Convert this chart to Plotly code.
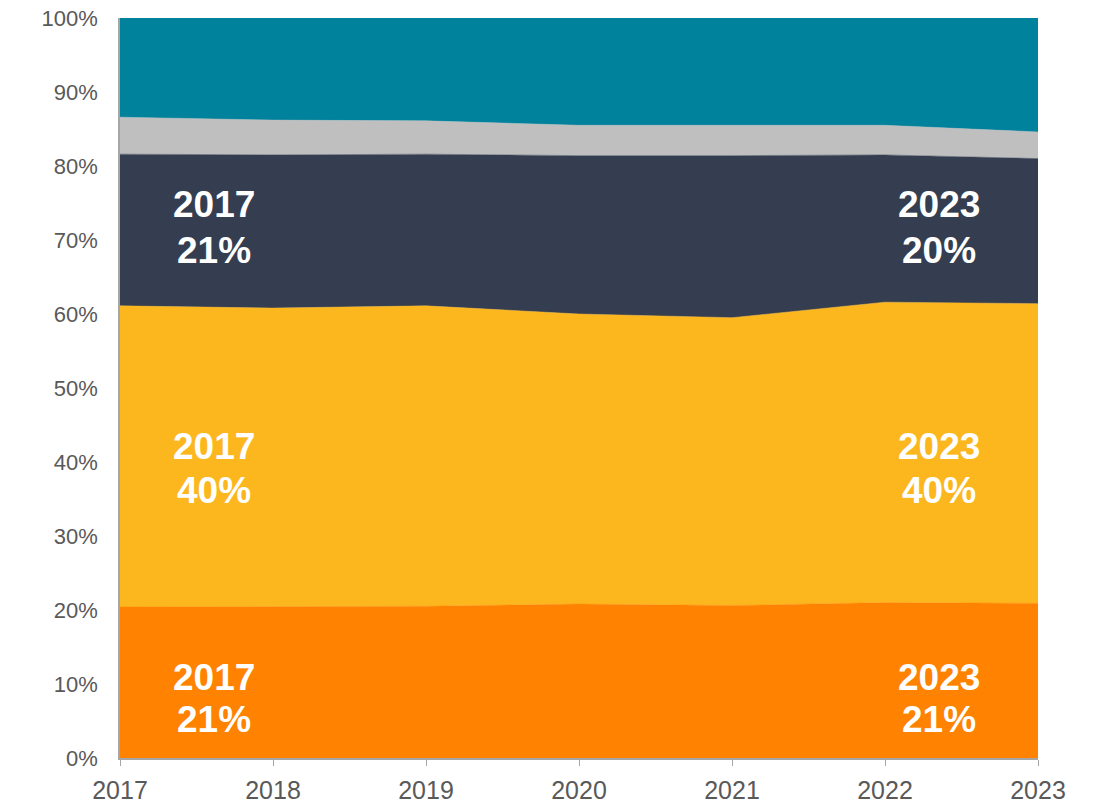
import plotly.graph_objects as go

years = [2017, 2018, 2019, 2020, 2021, 2022, 2023]
orange = [20.4, 20.5, 20.5, 20.8, 20.6, 21.0, 20.9]
yellow = [40.7, 40.3, 40.6, 39.2, 38.9, 40.6, 40.5]
dark = [20.5, 20.7, 20.5, 21.4, 21.9, 19.9, 19.6]
grey = [5.0, 4.7, 4.5, 4.1, 4.1, 4.0, 3.6]
teal = [13.4, 13.8, 13.9, 14.5, 14.5, 14.5, 15.4]

series = [
    ("Orange", orange, "#FF8200"),
    ("Yellow", yellow, "#FDB71E"),
    ("Dark", dark, "#343E50"),
    ("Grey", grey, "#BFBFBF"),
    ("Teal", teal, "#00819C"),
]

# band labels: (year line y, share line y, start share, end share)
year_line_y = [10.85, 42.05, 74.8]
share_line_y = [5.15, 36.1, 68.55]
start_shares = ["21%", "40%", "21%"]
end_shares = ["21%", "40%", "20%"]
label_x = [2017.615, 2022.355]
label_years = ["2017", "2023"]

fig = go.Figure()
for name, vals, col in series:
    fig.add_trace(go.Scatter(
        x=years, y=vals, name=name, stackgroup="one",
        mode="lines", line=dict(width=0.5, color=col),
        fillcolor=col,
    ))

lab_font = dict(family="Liberation Sans, Arial", size=37, color="white")
for yy, ys, s, e in zip(year_line_y, share_line_y, start_shares, end_shares):
    for xv, yr, sh in zip(label_x, label_years, (s, e)):
        fig.add_annotation(x=xv, y=yy, text="<b>" + yr + "</b>", showarrow=False,
                           font=lab_font, xanchor="center", yanchor="middle")
        fig.add_annotation(x=xv, y=ys, text="<b>" + sh + "</b>", showarrow=False,
                           font=lab_font, xanchor="center", yanchor="middle")

fig.update_layout(
    width=1094, height=805,
    margin=dict(l=120, r=56, t=18, b=47),
    plot_bgcolor="white", paper_bgcolor="white",
    showlegend=False,
    font=dict(family="Liberation Sans, Arial", size=20, color="#595959"),
)
fig.update_xaxes(
    range=[2017, 2023], tickmode="array", tickvals=years,
    ticktext=[str(y) for y in years],
    showgrid=False, zeroline=False, showline=True, linecolor="#A6A6A6",
    linewidth=1.5, ticks="outside", ticklen=6, tickcolor="#A6A6A6",
    tickfont=dict(size=25, color="#595959"), automargin=False,
    ticklabeloverflow="allow", ticklabelstandoff=3,
)
fig.update_yaxes(
    range=[0, 100], tickvals=list(range(0, 101, 10)),
    ticktext=[f"{v}%" for v in range(0, 101, 10)],
    showgrid=False, zeroline=False, showline=True, linecolor="#A6A6A6",
    linewidth=1.5, ticks="", ticklabelstandoff=16,
    tickfont=dict(size=22, color="#595959"), automargin=False,
    ticklabeloverflow="allow",
)

fig.write_html(
    "out.html",
    config={"displayModeBar": False},
    post_script="document.body.style.margin='0';document.body.style.overflow='hidden';",
)
